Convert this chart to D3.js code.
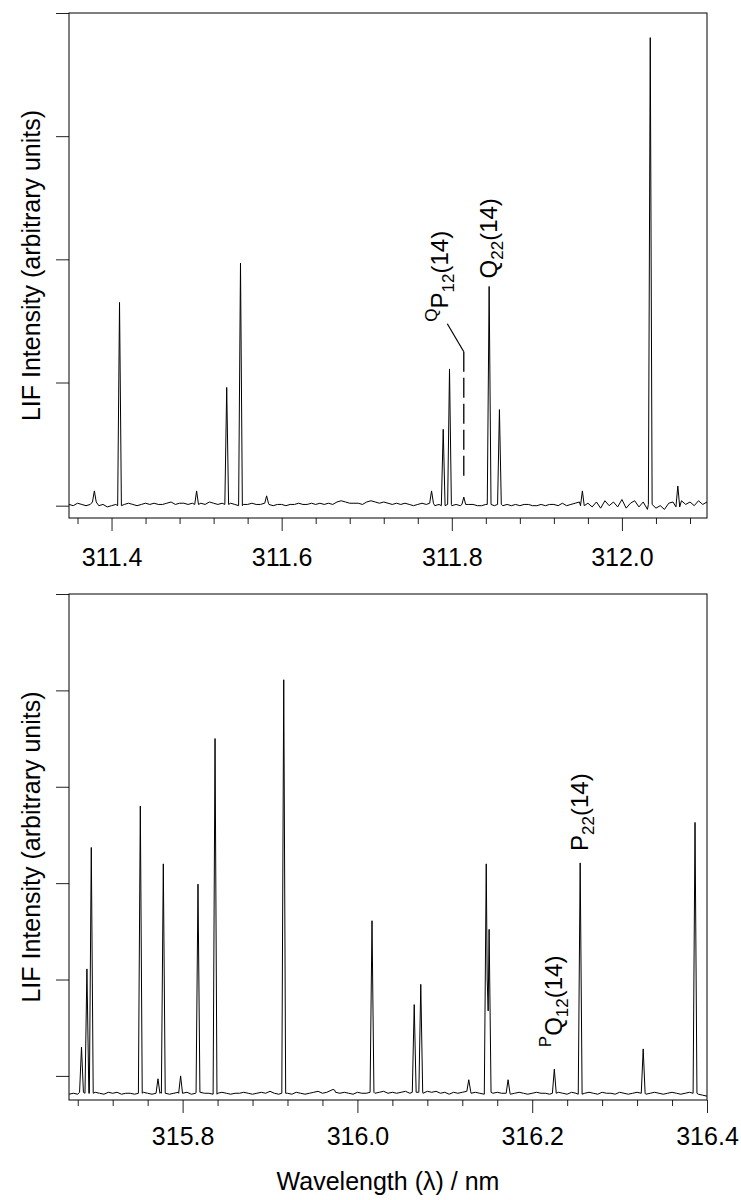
<!DOCTYPE html>
<html>
<head>
<meta charset="utf-8">
<script src="https://cdn.jsdelivr.net/npm/d3@7"></script>
<style>
  body { margin: 0; background: #fff; }
  svg text { font-family: "Liberation Sans", Arial, sans-serif; fill: #000; }
</style>
</head>
<body>
<svg id="chart" width="741" height="1200"></svg>
<script>
// ---- Upper spectrum (311.35 – 312.10 nm) ----
// Line centres (nm) and peak intensities (arbitrary units)
const upperLineWavelengths = [311.3798, 311.4094, 311.5000, 311.5354, 311.5516, 311.5823, 311.7762, 311.7899, 311.7973, 311.8141, 311.8439, 311.8560, 311.9535, 312.0333, 312.0657];
const upperLineIntensities = [0.12, 1.65, 0.12, 0.96, 1.97, 0.08, 0.12, 0.62, 1.11, 0.07, 1.78, 0.78, 0.12, 3.80, 0.16];
// Background level sampled every 0.005 nm from 311.350 nm
const upperBackgroundStart = 311.35;
const upperBackground = [
  0.01, 0.00, 0.02, 0.01, 0.00, 0.01, 0.03, 0.00, 0.01, -0.01,
  0.00, 0.01, 0.00, 0.01, 0.02, 0.01, 0.00, 0.01, 0.02, 0.01,
  0.02, 0.01, 0.01, 0.02, 0.03, 0.01, 0.02, 0.02, 0.01, 0.02,
  0.01, 0.02, 0.01, 0.03, 0.02, 0.01, 0.02, 0.01, 0.02, 0.01,
  0.00, 0.01, 0.01, 0.02, 0.01, 0.01, 0.02, 0.01, 0.00, 0.01,
  0.01, 0.00, 0.01, 0.01, 0.02, 0.01, 0.01, 0.02, 0.01, 0.02,
  0.01, 0.02, 0.01, 0.03, 0.04, 0.03, 0.02, 0.02, 0.02, 0.01,
  0.03, 0.04, 0.03, 0.02, 0.03, 0.02, 0.01, 0.02, 0.01, 0.02,
  0.01, 0.00, 0.01, 0.02, 0.01, 0.02, 0.00, 0.01, 0.00, 0.01,
  0.00, 0.01, 0.00, 0.01, 0.01, 0.01, 0.00, 0.00, 0.01, 0.01,
  0.00, 0.01, 0.00, 0.01, 0.00, 0.01, 0.00, 0.01, 0.01, 0.00,
  0.00, 0.01, 0.00, 0.01, 0.01, 0.00, 0.02, 0.00, 0.01, 0.02,
  0.03, 0.00, 0.02, -0.01, 0.03, -0.02, 0.04, 0.00, 0.03, -0.01,
  0.05, -0.02, 0.02, 0.04, -0.01, 0.03, -0.03, 0.01, -0.02, 0.00,
  -0.03, 0.02, 0.03, -0.01, 0.04, 0.01, 0.03, 0.00, 0.04, 0.01,
  0.03
];
const upperMajorTicks = [311.4, 311.6, 311.8, 312.0];
const upperMinorTicks = [311.36, 311.44, 311.48, 311.52, 311.56, 311.64, 311.68, 311.72, 311.76, 311.84, 311.88, 311.92, 311.96, 312.04, 312.08];
const upperIntensityTicks = [0, 1, 2, 3, 4];

// ---- Lower spectrum (315.67 – 316.40 nm) ----
const lowerLineWavelengths = [315.6843, 315.6905, 315.6955, 315.7516, 315.7718, 315.7779, 315.7977, 315.8176, 315.8371, 315.9157, 315.9720, 316.0167, 316.0650, 316.0725, 316.1274, 316.1474, 316.1507, 316.1724, 316.2253, 316.2549, 316.3270, 316.3863];
const lowerLineIntensities = [0.30, 1.11, 2.37, 2.80, -0.03, 2.20, 0.00, 1.99, 3.50, 4.11, -0.14, 1.61, 0.74, 0.95, -0.04, 2.20, 1.52, -0.04, 0.07, 2.21, 0.28, 2.63];
const lowerBackgroundStart = 315.67;
const lowerBackground = [
  -0.19, -0.18, -0.19, -0.17, -0.18, -0.18, -0.17, -0.18, -0.19, -0.17,
  -0.18, -0.17, -0.19, -0.18, -0.18, -0.19, -0.18, -0.17, -0.18, -0.19,
  -0.18, -0.17, -0.18, -0.19, -0.18, -0.17, -0.18, -0.17, -0.19, -0.18,
  -0.17, -0.18, -0.18, -0.19, -0.18, -0.17, -0.18, -0.19, -0.18, -0.18,
  -0.17, -0.18, -0.19, -0.18, -0.17, -0.18, -0.16, -0.18, -0.19, -0.18,
  -0.18, -0.19, -0.17, -0.18, -0.19, -0.18, -0.17, -0.16, -0.18, -0.17,
  -0.15, -0.17, -0.18, -0.17, -0.18, -0.19, -0.17, -0.18, -0.18, -0.17,
  -0.18, -0.17, -0.16, -0.18, -0.17, -0.18, -0.17, -0.16, -0.18, -0.17,
  -0.17, -0.18, -0.16, -0.17, -0.16, -0.18, -0.17, -0.19, -0.17, -0.18,
  -0.17, -0.16, -0.18, -0.17, -0.18, -0.19, -0.17, -0.18, -0.17, -0.18,
  -0.18, -0.19, -0.18, -0.17, -0.18, -0.19, -0.18, -0.17, -0.18, -0.18,
  -0.19, -0.18, -0.17, -0.18, -0.19, -0.17, -0.18, -0.19, -0.18, -0.17,
  -0.18, -0.19, -0.17, -0.18, -0.18, -0.19, -0.17, -0.18, -0.19, -0.18,
  -0.17, -0.18, -0.19, -0.18, -0.17, -0.18, -0.19, -0.18, -0.17, -0.18,
  -0.19, -0.18, -0.17, -0.18, -0.19, -0.20, -0.21
];
const lowerMajorTicks = [315.8, 316.0, 316.2, 316.4];
const lowerMinorTicks = [315.68, 315.72, 315.76, 315.84, 315.88, 315.92, 315.96, 316.04, 316.08, 316.12, 316.16, 316.24, 316.28, 316.32, 316.36];
const lowerIntensityTicks = [0, 1, 2, 3, 4, 5];

// Rotational line assignments
const upperAssignments = [
  { sup: "Q", branch: "P", sub: "12", n: "(14)", line: 311.8141 },
  { sup: "",  branch: "Q", sub: "22", n: "(14)", line: 311.8439 }
];
const lowerAssignments = [
  { sup: "P", branch: "Q", sub: "12", n: "(14)", line: 316.2253 },
  { sup: "",  branch: "P", sub: "22", n: "(14)", line: 316.2549 }
];

const BACKGROUND_STEP = 0.005;
const svg = d3.select("#chart");

// Combine background samples with narrow triangular line profiles
function buildTrace(bgStart, bg, wl, inten, hw) {
  const base = bg.map((v, i) => ({ x: bgStart + i * BACKGROUND_STEP, y: v }));
  const baseAt = x => base[Math.max(0, Math.min(base.length - 1, Math.round((x - bgStart) / BACKGROUND_STEP)))].y;
  const lines = wl.map((c, i) => ({ c, h: inten[i], f: baseAt(c) }));
  const pts = base.filter(d => !lines.some(p => Math.abs(d.x - p.c) < hw));
  lines.forEach(p => {
    pts.push({ x: p.c - hw, y: p.f }, { x: p.c, y: p.h }, { x: p.c + hw, y: p.f });
  });
  pts.sort((a, b) => a.x - b.x);
  // overlapping neighbours: keep the upper envelope
  pts.forEach(d => {
    lines.forEach(p => {
      const t = 1 - Math.abs(d.x - p.c) / hw;
      if (t > 0) d.y = Math.max(d.y, p.f + (p.h - p.f) * t);
    });
  });
  return pts;
}

function drawPanel(cfg) {
  const g = svg.append("g");
  const x = d3.scaleLinear().domain(cfg.xDomain).range([cfg.left, cfg.right]);
  const y = d3.scaleLinear().domain(cfg.yDomain).range([cfg.bottom, cfg.top]);

  // y ticks (no labels)
  g.append("g")
    .attr("transform", `translate(${cfg.left},0)`)
    .call(d3.axisLeft(y).tickValues(cfg.yTicks).tickSize(13).tickFormat(""))
    .call(a => a.select(".domain").remove())
    .call(a => a.selectAll("line").attr("stroke", "#222"));

  // x minor ticks
  g.append("g")
    .attr("transform", `translate(0,${cfg.bottom})`)
    .call(d3.axisBottom(x).tickValues(cfg.minor).tickSize(6).tickFormat(""))
    .call(a => a.select(".domain").remove())
    .call(a => a.selectAll("line").attr("stroke", "#222"));

  // x major ticks with labels
  g.append("g")
    .attr("transform", `translate(0,${cfg.bottom})`)
    .call(d3.axisBottom(x).tickValues(cfg.major).tickSize(13).tickPadding(cfg.labelPad).tickFormat(d3.format(".1f")))
    .call(a => a.select(".domain").remove())
    .call(a => a.selectAll("line").attr("stroke", "#222"))
    .call(a => a.selectAll("text").attr("font-size", 25).attr("font-family", "Liberation Sans, Arial, sans-serif").attr("fill", "#000"));

  // spectrum trace
  const trace = buildTrace(cfg.bgStart, cfg.bg, cfg.wl, cfg.inten, cfg.hw);
  g.append("path")
    .datum(trace)
    .attr("fill", "none")
    .attr("stroke", "#000")
    .attr("stroke-width", 1)
    .attr("stroke-linejoin", "round")
    .attr("d", d3.line().x(d => x(d.x)).y(d => y(d.y)));

  // frame
  g.append("rect")
    .attr("x", cfg.left).attr("y", cfg.top)
    .attr("width", cfg.right - cfg.left).attr("height", cfg.bottom - cfg.top)
    .attr("fill", "none").attr("stroke", "#000").attr("stroke-width", 1);

  // y title
  g.append("text")
    .attr("transform", `translate(40,${(cfg.top + cfg.bottom) / 2}) rotate(-90)`)
    .attr("text-anchor", "middle")
    .attr("font-size", 25)
    .text("LIF Intensity (arbitrary units)");

  return { x, y, g };
}

// Rotated line label: optional superscript, branch letter, subscript, quantum number
function assignmentLabel(g, a, px, py) {
  const t = g.append("text")
    .attr("transform", `translate(${px},${py}) rotate(-90)`)
    .attr("font-size", 24);
  if (a.sup) {
    t.append("tspan").attr("font-size", 17).attr("dy", -11).text(a.sup);
    t.append("tspan").attr("dy", 11).text(a.branch);
  } else {
    t.append("tspan").text(a.branch);
  }
  t.append("tspan").attr("font-size", 17).attr("dy", 6).text(a.sub);
  t.append("tspan").attr("dy", -6).text(a.n);
}

function intensityAt(wl, inten, c) {
  return inten[wl.indexOf(c)];
}

// Upper panel
const up = drawPanel({
  left: 69, right: 707, top: 13, bottom: 518,
  xDomain: [311.35, 312.10], yDomain: [-0.1, 4],
  yTicks: upperIntensityTicks, major: upperMajorTicks, minor: upperMinorTicks,
  labelPad: 17,
  bgStart: upperBackgroundStart, bg: upperBackground,
  wl: upperLineWavelengths, inten: upperLineIntensities, hw: 0.0022
});

// ^QP12(14): dashed marker above the weak line with a slanted leader to the label
{
  const a = upperAssignments[0];
  const lx = up.x(a.line);
  const yTopMarker = up.y(1.25);
  const yBottomMarker = up.y(0.22);
  up.g.append("line")
    .attr("x1", lx).attr("x2", lx).attr("y1", yTopMarker).attr("y2", yBottomMarker)
    .attr("stroke", "#000").attr("stroke-width", 1.3).attr("stroke-dasharray", "20,6");
  up.g.append("line")
    .attr("x1", lx).attr("y1", yTopMarker).attr("x2", lx - 16.5).attr("y2", yTopMarker - 28)
    .attr("stroke", "#000").attr("stroke-width", 1.2);
  assignmentLabel(up.g, a, lx - 15.5, yTopMarker - 30);
}
{
  const a = upperAssignments[1];
  const h = intensityAt(upperLineWavelengths, upperLineIntensities, a.line);
  assignmentLabel(up.g, a, up.x(a.line) + 8, up.y(h) - 8);
}

// Lower panel
const low = drawPanel({
  left: 69, right: 707, top: 594, bottom: 1100,
  xDomain: [315.67, 316.40], yDomain: [-0.25, 5],
  yTicks: lowerIntensityTicks, major: lowerMajorTicks, minor: lowerMinorTicks,
  labelPad: 14,
  bgStart: lowerBackgroundStart, bg: lowerBackground,
  wl: lowerLineWavelengths, inten: lowerLineIntensities, hw: 0.0022
});
{
  const a = lowerAssignments[0];
  const h = intensityAt(lowerLineWavelengths, lowerLineIntensities, a.line);
  assignmentLabel(low.g, a, low.x(a.line) + 8, low.y(h) - 22);
}
{
  const a = lowerAssignments[1];
  const h = intensityAt(lowerLineWavelengths, lowerLineIntensities, a.line);
  assignmentLabel(low.g, a, low.x(a.line) + 8, low.y(h) - 12);
}

// x title
svg.append("text")
  .attr("x", 388).attr("y", 1190)
  .attr("text-anchor", "middle")
  .attr("font-size", 25)
  .text("Wavelength (\u03BB) / nm");
</script>
</body>
</html>
